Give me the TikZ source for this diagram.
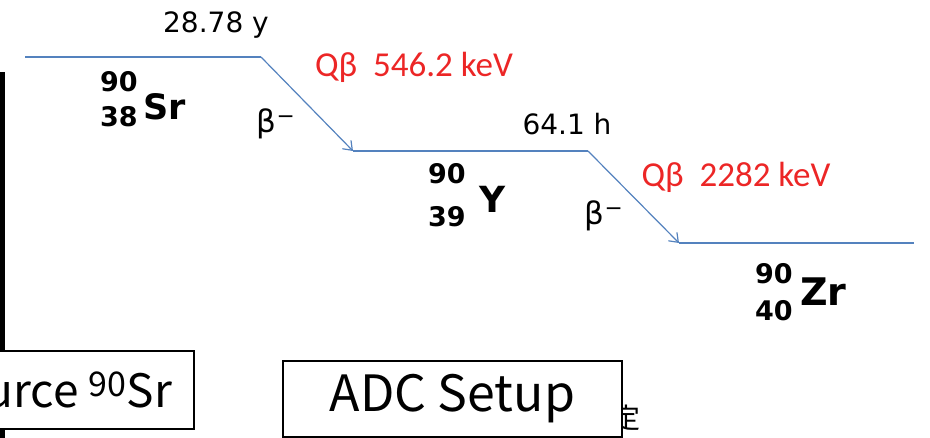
\documentclass[tikz,border=0pt]{standalone}
\usepackage{fontspec}
\setmainfont{DejaVu Sans}
\newfontfamily\qfont{Carlito}
\newfontfamily\jpfont{Noto Sans CJK JP}
\usetikzlibrary{arrows.meta}

\definecolor{colnivel}{RGB}{84,130,190}
\definecolor{colq}{RGB}{236,38,38}

\tikzset{
  nivel/.style={draw=colnivel, line width=1.4pt},
  salto/.style={draw=colnivel, line width=1.2pt, -{Straight Barb[length=8pt, width=12pt, line width=1.2pt]}},
  vida/.style={anchor=base, inner sep=0pt, font=\fontsize{28}{30}\selectfont},
  qval/.style={anchor=base, inner sep=0pt, text=colq, font=\qfont\fontsize{35}{36}\selectfont},
  beta/.style={anchor=base, inner sep=0pt, font=\fontsize{31}{32}\selectfont},
  masa/.style={anchor=west, inner sep=0pt, font=\bfseries\fontsize{27}{28}\selectfont},
  caja/.style={draw=black, line width=2.2pt, fill=white, inner sep=0pt,
    font=\jpfont\fontsize{50}{52}\selectfont}
}

\begin{document}
\begin{tikzpicture}[x=1pt, y=-1pt]
\useasboundingbox (0,0) rectangle (930,438);
\clip (0,0) rectangle (930,438);

% Niveles
\coordinate (sr-a) at (25,57);
\coordinate (sr-b) at (261,57);
\coordinate (y-a) at (353,151);
\coordinate (y-b) at (588,151);
\coordinate (zr-a) at (679,243);
\coordinate (zr-b) at (914,243);

\draw[nivel] (sr-a) -- (sr-b);
\draw[salto] (sr-b) -- (y-a);
\draw[nivel] (y-a) -- (y-b);
\draw[salto] (y-b) -- (zr-a);
\draw[nivel] (zr-a) -- (zr-b);

% Textos
\node[vida] (t-sr) at (216,33) {28.78 y};
\node[vida] (t-y) at (567,135) {64.1 h};
\node[qval] (q-sr) at (414,77) {Qβ\ \ 546.2 keV};
\node[qval] (q-y) at (736,187) {Qβ\ \ 2282 keV};
\node[beta] (b-sr) at (276,133) {β\textsuperscript{−}};
\node[beta] (b-y) at (604,225) {β\textsuperscript{−}};

% Nucleos
\node[masa] (sr-m) at (100,82) {90};
\node[masa] (sr-z) at (100,117) {38};
\node[masa, font=\bfseries\fontsize{35}{36}\selectfont] (sr-el) at (143,107) {Sr};

\node[masa] (y-m) at (428,174) {90};
\node[masa] (y-z) at (428,217) {39};
\node[masa, font=\bfseries\fontsize{36}{36}\selectfont] (y-el) at (479,199) {Y};

\node[masa] (zr-m) at (755,274) {90};
\node[masa] (zr-z) at (755,311) {40};
\node[masa, font=\bfseries\fontsize{38}{38}\selectfont] (zr-el) at (800,292) {Zr};

% Borde y cajas
\fill (0,72) rectangle (5,352);
\fill (0,428) rectangle (5,438);

\node[inner sep=0pt, font=\jpfont\fontsize{28}{28}\selectfont] (kanji) at (626,418) {定};

\node[caja, anchor=east, inner xsep=22pt, minimum height=78pt,
  font=\jpfont\fontsize{46}{48}\selectfont] (fuente) at (195,390)
  {Source \raisebox{11pt}{\fontsize{34}{34}\selectfont 90}Sr};
\node[caja, minimum width=339pt, minimum height=76pt] (adc) at (452.5,399) {ADC Setup};
\end{tikzpicture}
\end{document}
